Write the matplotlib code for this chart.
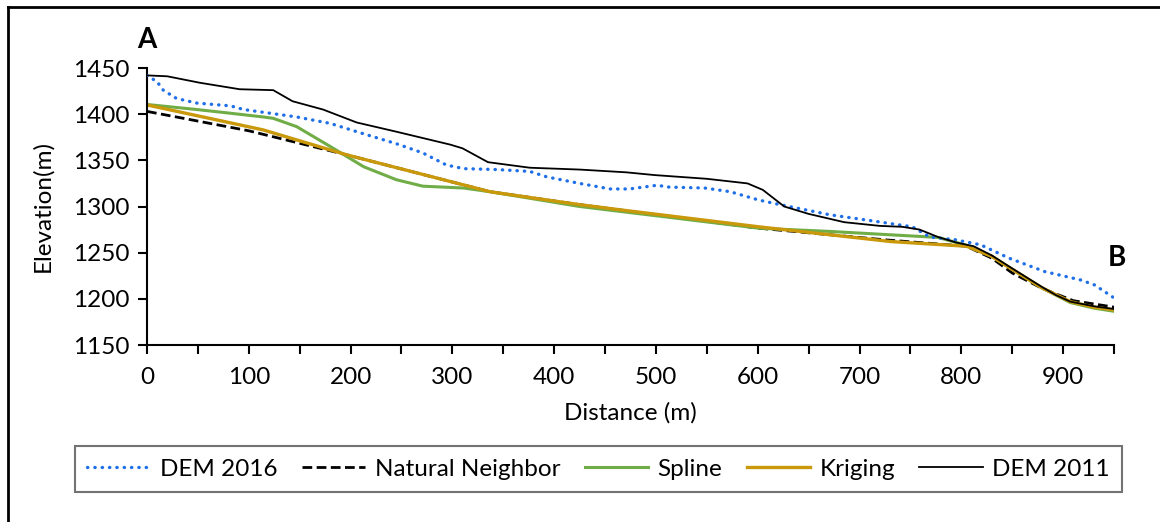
import matplotlib
matplotlib.use("Agg")
import matplotlib.pyplot as plt
from matplotlib.lines import Line2D

plt.rcParams['font.family'] = ['Lato', 'DejaVu Sans']

# Profile A-B: elevation along distance for each surface
dem2016_x = [0, 10, 16, 29, 49, 82, 95, 121, 147, 180, 212, 245, 271, 294, 311, 344, 376, 393,
             425, 455, 474, 501, 513, 548, 573, 601, 622, 671, 706, 752, 769, 794, 819, 847,
             882, 917, 931, 950]
dem2016_y = [1442, 1435, 1426, 1417, 1412, 1409, 1405, 1401, 1397, 1390, 1379, 1368, 1358, 1345,
             1341, 1340, 1338, 1332, 1325, 1319, 1319, 1323, 1321, 1320, 1316, 1307, 1302, 1291,
             1285.5, 1278, 1267, 1264, 1258.5, 1244, 1229.5, 1220.5, 1215, 1201]

natural_x = [0, 100, 196, 337, 425, 601, 724, 805, 830, 850, 880, 910, 950]
natural_y = [1403, 1382, 1356, 1316, 1302, 1276.5, 1264, 1257, 1244, 1228, 1211, 1198, 1191]

spline_x = [0, 49, 82, 114, 124, 147, 180, 213, 245, 271, 311, 337, 425, 601, 671, 777, 805,
            830, 847, 863, 879, 907, 930, 950]
spline_y = [1410.5, 1405, 1401, 1397, 1395.5, 1386.5, 1365, 1343, 1329, 1322, 1320, 1316, 1300,
            1276.5, 1273, 1266.5, 1258, 1246, 1234, 1223, 1212, 1196, 1190, 1186.5]

kriging_x = [0, 114, 196, 337, 425, 475, 601, 731, 805, 830, 847, 863, 879, 907, 930, 950]
kriging_y = [1410, 1383, 1356, 1316, 1302, 1295, 1278, 1262, 1257, 1246, 1234, 1223, 1212, 1197,
             1191, 1188]

dem2011_x = [0, 20, 52, 91, 124, 143, 173, 206, 245, 298, 310, 335, 376, 425, 471, 499, 550, 590,
             605, 626, 650, 685, 720, 742, 759, 777, 795, 812, 830, 847, 863, 879, 893, 907, 930,
             950]
dem2011_y = [1442, 1441, 1434, 1427, 1426, 1414, 1405, 1391, 1381, 1367, 1363, 1348, 1342, 1340,
             1337, 1334, 1330, 1325, 1318, 1300, 1292, 1283, 1279, 1278, 1275, 1267, 1261, 1257,
             1247, 1235, 1224, 1213, 1204, 1197, 1192, 1189]

x_ticks_major = [0, 100, 200, 300, 400, 500, 600, 700, 800, 900]
y_ticks = [1150, 1200, 1250, 1300, 1350, 1400, 1450]

FS = 17.5
W, H = 1160, 522

fig = plt.figure(figsize=(W / 100, H / 100), dpi=100)
ax = fig.add_axes([147 / W, 1 - 345 / H, (1114 - 147) / W, (345 - 68) / H])

ax.plot(dem2016_x, dem2016_y, color='#1f6fe8', lw=2.4, linestyle=(0, (0.1, 2.1)),
        dash_capstyle='round', label='DEM 2016', zorder=3)
ax.plot(natural_x, natural_y, color='black', lw=2.0, linestyle=(0, (3.5, 1.6)),
        label='Natural Neighbor', zorder=2)
ax.plot(spline_x, spline_y, color='#70ad47', lw=2.2, label='Spline', zorder=2)
ax.plot(kriging_x, kriging_y, color='#c9980b', lw=2.4, label='Kriging', zorder=2)
ax.plot(dem2011_x, dem2011_y, color='black', lw=1.3, label='DEM 2011', zorder=4)

ax.set_xlim(0, 950)
ax.set_ylim(1150, 1450)
ax.set_xticks(list(range(0, 951, 50)))
ax.set_xticklabels([str(v) if v in x_ticks_major else '' for v in range(0, 951, 50)])
ax.set_yticks(y_ticks)
for s in ['top', 'right']:
    ax.spines[s].set_visible(False)
for s in ['left', 'bottom']:
    ax.spines[s].set_linewidth(1.5)
ax.tick_params(direction='out', length=6.5, width=1.5, labelsize=FS)
ax.tick_params(axis='x', pad=9)
ax.tick_params(axis='y', pad=6)

ax.set_xlabel('Distance (m)', fontsize=FS)
ax.set_ylabel('Elevation(m)', fontsize=FS)
ax.xaxis.set_label_coords(0.5, (345 - 402) / 277)
ax.yaxis.set_label_coords((53 - 147) / 967, 0.5)

ax.text(0, 1480, 'A', fontsize=20, fontweight='bold', ha='center', va='center', clip_on=False)
ax.text(953, 1244, 'B', fontsize=20, fontweight='bold', ha='center', va='center', clip_on=False)

leg = fig.legend(loc='center', bbox_to_anchor=(598.5 / W, 1 - 469 / H), ncol=5,
                 fontsize=FS, frameon=True, fancybox=False, handlelength=2.6,
                 handletextpad=0.4, columnspacing=1.0, borderpad=0.5)
leg.get_frame().set_edgecolor('#505050')
leg.get_frame().set_linewidth(1.5)

# outer frame lines along the top and left edges
fig.add_artist(Line2D([8 / W, 1], [1 - 7 / H, 1 - 7 / H], color='black', lw=2,
                      transform=fig.transFigure))
fig.add_artist(Line2D([8 / W, 8 / W], [0, 1 - 7 / H], color='black', lw=2,
                      transform=fig.transFigure))

fig.savefig('out.png', dpi=100)
